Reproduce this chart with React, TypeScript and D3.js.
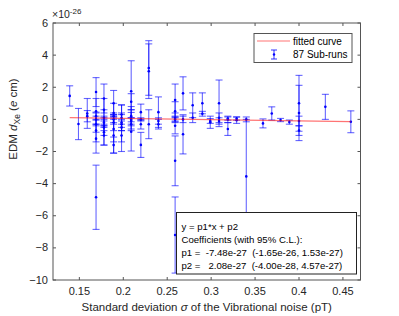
import { useEffect, useRef } from 'react'
import * as d3 from 'd3'

// sigma of vibrational noise (pT) for each of the 87 sub-runs
const sigma = [
  0.139, 0.149, 0.159, 0.159,
  0.169, 0.169, 0.169, 0.169, 0.169, 0.169, 0.169, 0.169,
  0.178, 0.178, 0.178, 0.178, 0.178, 0.178, 0.178, 0.178,
  0.189, 0.189, 0.189, 0.189, 0.189, 0.189, 0.189, 0.189,
  0.198, 0.198, 0.198, 0.198, 0.198, 0.198,
  0.209, 0.209, 0.209, 0.209, 0.209, 0.209, 0.209,
  0.22, 0.22, 0.22, 0.22,
  0.229, 0.229, 0.229,
  0.24, 0.24, 0.24,
  0.259, 0.259, 0.259, 0.259, 0.259, 0.259, 0.259,
  0.268, 0.268, 0.268,
  0.279, 0.279,
  0.29, 0.29,
  0.299, 0.299,
  0.309, 0.309, 0.309,
  0.319, 0.319, 0.319,
  0.329, 0.329,
  0.34, 0.34,
  0.359, 0.369, 0.379, 0.389,
  0.40, 0.40, 0.40, 0.40,
  0.43, 0.459,
]
// EDM (x1e-26 e cm)
const edm = [
  1.46, -0.29, 0.37, 0.2,
  1.7, 0.5, -0.3, -0.7, -1.2, 0.0, -4.85, 0.2,
  1.3, 0.6, 0.1, -0.4, -0.8, -1.0, -0.2, -0.5,
  1.0, 0.4, -0.2, -0.6, -1.0, -1.6, 0.0, 0.2,
  0.3, -0.2, -0.5, -1.0, 0.1, -0.3,
  1.75, 1.1, 0.2, -0.77, -0.3, 0.0, -0.1,
  -1.59, 0.0, 0.45, -0.3,
  3.2, 3.0, -0.3,
  0.45, -0.3, -0.1,
  1.2, 0.1, -0.4, -2.58, -7.2, 0.5, 0.0,
  1.62, -0.93, 0.0,
  0.88, 0.1,
  1.0, 0.35,
  -0.18, -0.1,
  1.0, 0.1, -0.1,
  -0.6, 0.0, 0.05,
  -0.05, 0.05,
  -3.55, 0.0,
  -0.25, 0.37, -0.04, -0.17,
  1.0, 0.4, -0.1, -0.7,
  0.78, -0.15,
]
// half-length of the error bar (x1e-26)
const err = [
  0.63, 0.97, 0.93, 0.35,
  0.9, 0.8, 0.5, 0.7, 0.9, 0.4, 2.0, 0.25,
  0.9, 0.7, 0.5, 0.6, 0.8, 0.6, 0.3, 0.2,
  0.8, 0.6, 0.5, 0.8, 1.1, 0.5, 0.3, 0.2,
  0.6, 0.5, 0.9, 1.0, 0.8, 0.2,
  1.9, 0.5, 0.6, 1.2, 0.4, 0.6, 0.2,
  0.78, 0.1, 0.5, 0.3,
  1.7, 1.7, 0.9,
  0.95, 0.3, 0.2,
  1.0, 0.3, 0.5, 1.55, 2.37, 0.6, 0.15,
  1.03, 1.22, 0.2,
  0.77, 0.3,
  0.65, 0.15,
  0.38, 0.15,
  1.45, 0.3, 0.2,
  0.4, 0.2, 0.1,
  0.2, 0.1,
  3.55, 0.15,
  0.28, 0.41, 0.1, 0.13,
  1.74, 1.72, 0.3, 0.3,
  0.78, 0.68,
]

const xTicks = [0.15, 0.2, 0.25, 0.3, 0.35, 0.4, 0.45]
const yTicks = [-10, -8, -6, -4, -2, 0, 2, 4, 6]
const p1 = -0.748
const p2 = 0.208
const fitLines = [
  'y = p1*x + p2',
  'Coefficients (with 95% C.L.):',
  'p1 =  -7.48e-27  (-1.65e-26, 1.53e-27)',
  'p2 =   2.08e-27  (-4.00e-28, 4.57e-27)',
]

const W = 399
const H = 316
const M = { left: 53, right: 360.5, top: 23, bottom: 280 }
const FONT = 'Liberation Sans, Arial, sans-serif'

export default function App() {
  const ref = useRef<SVGSVGElement>(null)

  useEffect(() => {
    const svg = d3.select(ref.current)
    svg.selectAll('*').remove()

    const x = d3.scaleLinear().domain([0.12, 0.47]).range([M.left, M.right])
    const y = d3.scaleLinear().domain([-10, 6]).range([M.bottom, M.top])

    svg.append('rect').attr('x', M.left).attr('y', M.top)
      .attr('width', M.right - M.left).attr('height', M.bottom - M.top)
      .attr('fill', '#fff')

    // error bars
    const bars = svg.append('g')
    sigma.forEach((s, i) => {
      const cx = x(s)
      const y0 = y(edm[i] - err[i])
      const y1 = y(edm[i] + err[i])
      const g = bars.append('g').attr('stroke', '#0000ff').attr('stroke-opacity', 0.6).attr('stroke-width', 1.1)
      g.append('line').attr('x1', cx).attr('x2', cx).attr('y1', y0).attr('y2', y1)
      g.append('line').attr('x1', cx - 3.5).attr('x2', cx + 3.5).attr('y1', y0).attr('y2', y0)
      g.append('line').attr('x1', cx - 3.5).attr('x2', cx + 3.5).attr('y1', y1).attr('y2', y1)
    })
    bars.selectAll('circle.pt').data(sigma).join('circle')
      .attr('cx', d => x(d)).attr('cy', (d, i) => y(edm[i]))
      .attr('r', 1.3).attr('fill', '#0000ff')

    // fitted line
    const xmin = d3.min(sigma)!, xmax = d3.max(sigma)!
    svg.append('line')
      .attr('x1', x(xmin)).attr('x2', x(xmax))
      .attr('y1', y(p1 * xmin + p2)).attr('y2', y(p1 * xmax + p2))
      .attr('stroke', '#ff0000').attr('stroke-opacity', 0.55).attr('stroke-width', 1.2)

    // axes box + ticks
    const ax = svg.append('g').attr('stroke', '#555').attr('stroke-width', 1).attr('fill', 'none')
    ax.append('rect').attr('x', M.left).attr('y', M.top)
      .attr('width', M.right - M.left).attr('height', M.bottom - M.top)
    xTicks.forEach(t => {
      ax.append('line').attr('x1', x(t)).attr('x2', x(t)).attr('y1', M.bottom).attr('y2', M.bottom - 3)
      ax.append('line').attr('x1', x(t)).attr('x2', x(t)).attr('y1', M.top).attr('y2', M.top + 3)
    })
    yTicks.forEach(t => {
      ax.append('line').attr('x1', M.left).attr('x2', M.left + 3).attr('y1', y(t)).attr('y2', y(t))
      ax.append('line').attr('x1', M.right).attr('x2', M.right - 3).attr('y1', y(t)).attr('y2', y(t))
    })

    const txt = svg.append('g').attr('font-family', FONT).attr('fill', '#262626')
    txt.selectAll('text.xt').data(xTicks).join('text')
      .attr('x', d => x(d)).attr('y', 295).attr('text-anchor', 'middle')
      .attr('font-size', 11).text(d => d3.format('')(d))
    txt.selectAll('text.yt').data(yTicks).join('text')
      .attr('x', M.left - 5).attr('y', d => y(d) + 3.5).attr('text-anchor', 'end')
      .attr('font-size', 11).text(d => d3.format('')(d))

    const exp = txt.append('text').attr('x', M.left - 1).attr('y', 18).attr('font-size', 10.5)
    exp.append('tspan').text('×10')
    exp.append('tspan').attr('dy', -4).attr('font-size', 8).text('-26')

    const xl = txt.append('text').attr('x', (M.left + M.right) / 2).attr('y', 311)
      .attr('text-anchor', 'middle').attr('font-size', 11.5)
    xl.append('tspan').text('Standard deviation ')
    xl.append('tspan').attr('font-style', 'italic').text('σ')
    xl.append('tspan').text(' of the Vibrational noise (pT)')

    const yl = txt.append('text')
      .attr('transform', `translate(17,119) rotate(-90)`)
      .attr('text-anchor', 'middle').attr('font-size', 11.5)
    yl.append('tspan').text('EDM ')
    yl.append('tspan').attr('font-style', 'italic').text('d')
    yl.append('tspan').attr('font-size', 8.5).attr('dy', 3).text('Xe')
    yl.append('tspan').attr('dy', -3).text(' (')
    yl.append('tspan').attr('font-style', 'italic').text('e')
    yl.append('tspan').text(' cm)')

    // legend
    const lg = svg.append('g')
    lg.append('rect').attr('x', 254).attr('y', 33.5).attr('width', 98).attr('height', 29)
      .attr('fill', '#fff').attr('stroke', '#555')
    lg.append('line').attr('x1', 257).attr('x2', 290).attr('y1', 41).attr('y2', 41)
      .attr('stroke', '#ff0000').attr('stroke-opacity', 0.55).attr('stroke-width', 1.2)
    const li = lg.append('g').attr('stroke', '#0000ff').attr('stroke-opacity', 0.8)
    li.append('line').attr('x1', 274).attr('x2', 274).attr('y1', 50).attr('y2', 59)
    li.append('line').attr('x1', 271).attr('x2', 277).attr('y1', 50).attr('y2', 50)
    li.append('line').attr('x1', 271).attr('x2', 277).attr('y1', 59).attr('y2', 59)
    lg.append('circle').attr('cx', 274).attr('cy', 54.5).attr('r', 1.2).attr('fill', '#0000ff')
    lg.append('text').attr('x', 293).attr('y', 45).attr('font-family', FONT).attr('font-size', 10)
      .attr('fill', '#000').text('fitted curve')
    lg.append('text').attr('x', 293).attr('y', 58).attr('font-family', FONT).attr('font-size', 10)
      .attr('fill', '#000').text('87 Sub-runs')

    // fit annotation
    const an = svg.append('g')
    an.append('rect').attr('x', 176.5).attr('y', 212.5).attr('width', 180).attr('height', 61.5)
      .attr('fill', '#fff').attr('stroke', '#222')
    an.selectAll('text').data(fitLines).join('text')
      .attr('x', 181.5).attr('y', (d, i) => 229.5 + i * 13.3)
      .attr('font-family', FONT).attr('font-size', 9.6).attr('fill', '#000')
      .attr('xml:space', 'preserve').style('white-space', 'pre')
      .text(d => d)
  }, [])

  return (
    <svg ref={ref} width={W} height={H}
      style={{ position: 'absolute', left: 0, top: 0, background: '#fff' }} />
  )
}
